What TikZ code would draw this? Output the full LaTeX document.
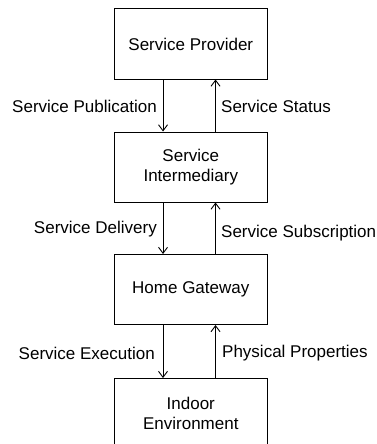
\documentclass[tikz,border=0pt]{standalone}
\usepackage{fontspec}
\setmainfont{Liberation Sans}
\usetikzlibrary{arrows.meta}
\begin{document}
\begin{tikzpicture}[x=1pt,y=1pt,
  box/.style={draw,line width=1pt,minimum width=153pt,minimum height=70pt,inner sep=0pt,align=center,font=\fontsize{17}{20}\selectfont},
  lbl/.style={font=\fontsize{17}{20}\selectfont,inner sep=0pt},
  flow/.style={line width=1pt,-{Straight Barb[length=6pt,width=9pt,line width=0.9pt]}}]
\useasboundingbox (0,0) rectangle (377,-444);
\fill[white] (0,0) rectangle (377,-444);
\node[box] (p) at (190.8,-44) {Service Provider};
\node[box] (i) at (190.8,-167) {Service\\Intermediary};
\node[box] (h) at (190.8,-289.5) {Home Gateway};
\node[box] (e) at (190.8,-413.5) {Indoor\\Environment};
\coordinate (L) at (163,0);
\coordinate (R) at (215.5,0);
\draw[flow] (p.south -| L) -- (i.north -| L);
\draw[flow] (i.north -| R) -- (p.south -| R);
\draw[flow] (i.south -| L) -- (h.north -| L);
\draw[flow] (h.north -| R) -- (i.south -| R);
\draw[flow] (h.south -| L) -- (e.north -| L);
\draw[flow] (e.north -| R) -- (h.south -| R);
\node[lbl,anchor=east] (l1) at (157,-106) {Service Publication};
\node[lbl,anchor=west] (r1) at (221,-106) {Service Status};
\node[lbl,anchor=east] (l2) at (157,-229) {Service Delivery};
\node[lbl,anchor=west] (r2) at (221,-233) {Service Subscription};
\node[lbl,anchor=east] (l3) at (155,-353) {Service Execution};
\node[lbl,anchor=west] (r3) at (222,-353) {Physical Properties};
\end{tikzpicture}
\end{document}
